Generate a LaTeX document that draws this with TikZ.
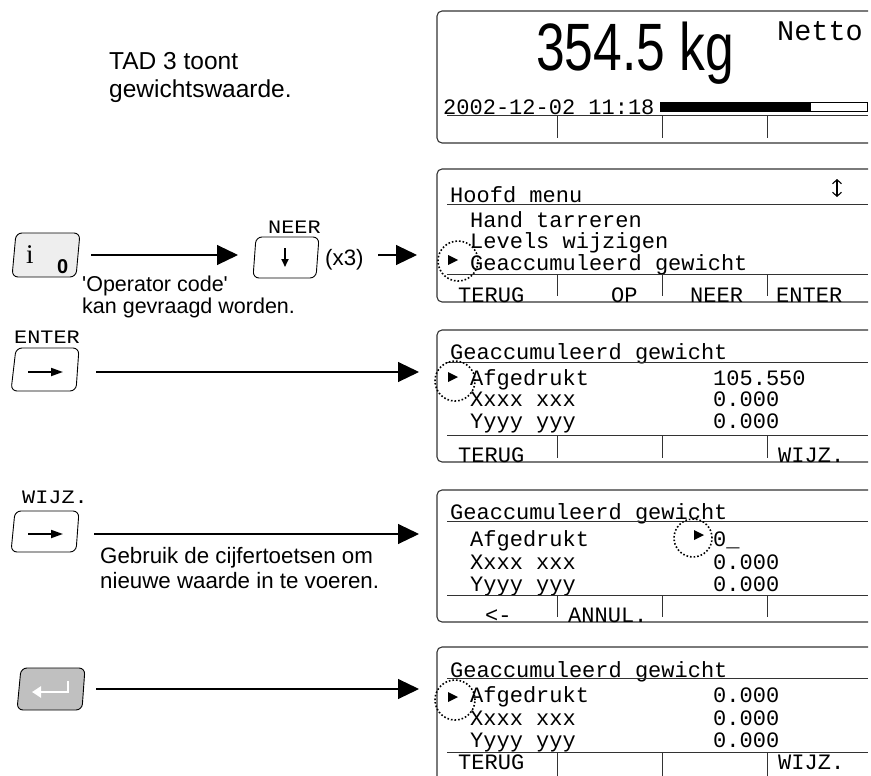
\documentclass[tikz,border=0pt]{standalone}
\usepackage{fontspec}
\setmainfont{Liberation Sans}
\newfontfamily\lcdfont{Liberation Mono}
\newfontfamily\capfont{Liberation Serif}
\usetikzlibrary{arrows.meta}

\definecolor{keylight}{HTML}{EEEEEE}
\definecolor{keydark}{HTML}{C0C0C0}
\definecolor{framegray}{HTML}{333333}

\tikzset{
  lcd/.style={font=\lcdfont\fontsize{22}{22}\selectfont, inner sep=0pt, anchor=base west},
  keylabel/.style={font=\lcdfont\fontsize{19}{19}\selectfont, inner sep=0pt, anchor=base west},
  note/.style={font=\fontsize{22.3}{27}\selectfont, inner sep=0pt, anchor=base west},
  flow/.style={line width=1.1pt, -{Triangle[length=21pt,width=20pt]}},
  lcdframe/.style={draw=framegray, line width=1.1pt, rounded corners=5pt},
  rule/.style={draw=framegray, line width=1pt},
  keyface/.style={draw=black, line width=0.9pt, rounded corners=6pt},
  cursorring/.style={dotted, line width=1.6pt},
}

% one display window, open on the right: top and bottom y
\newcommand\lcdwindow[2]{%
  \draw[lcdframe] (868,#1) -- (437,#1) -- (437,#2) -- (868,#2);}
% soft-key dividers: from y to y
\newcommand\softkeys[2]{%
  \foreach \sx in {557,662,767} \draw[rule] (\sx,#1) -- (\sx,#2);}
% selection cursor: ring centre, ring radius, triangle tip position
\newcommand\selcursor[4]{%
  \draw[cursorring] (#1,#2) circle (#3);
  \fill #4 -- ++(-10,-5) -- ++(0,10) -- cycle;}

\begin{document}
\begin{tikzpicture}[x=1pt,y=-1pt]
\useasboundingbox (0,0) rectangle (871,776);
\clip (0,0) rectangle (871,776);

% ---------------- left column: instructions and keys ----------------
\node[note, font=\fontsize{24.5}{28}\selectfont] (tad1) at (109,70) {TAD 3 toont};
\node[note, font=\fontsize{24.5}{28}\selectfont] (tad2) at (109,98) {gewichtswaarde.};

% info key
\draw[keyface, fill=keylight] (16,233) -- (80,233) -- (76,277) -- (12,277) -- cycle;
\node[inner sep=0pt, anchor=base west, font=\capfont\fontsize{27}{27}\selectfont] (infoi) at (26,263) {i};
\node[inner sep=0pt, anchor=base west, font=\bfseries\fontsize{20}{20}\selectfont] (info0) at (57,273) {0};
\coordinate (infoOut) at (91,255);
\coordinate (neerIn) at (238,255);
\draw[flow] (infoOut) -- (neerIn);
\node[note, font=\fontsize{21.5}{22}\selectfont] (opc1) at (82,291) {\textquotesingle Operator code\textquotesingle};
\node[note, font=\fontsize{21.5}{22}\selectfont] (opc2) at (82,313) {kan gevraagd worden.};

% NEER key
\node[keylabel] (neerlbl) at (268,233) {\scalebox{1.15}[1]{NEER}};
\draw[keyface, fill=white] (256,237) -- (319,237) -- (316,278) -- (253,278) -- cycle;
\draw[line width=1.8pt, -{Triangle[length=8pt,width=7pt]}] (285,248) -- (285,267);
\node[note] (times3) at (325,265) {(x3)};
\coordinate (x3Out) at (378,255);
\coordinate (menuIn) at (417,255);
\draw[flow] (x3Out) -- (menuIn);

% ENTER key
\node[keylabel] (enterlbl) at (14,343) {\scalebox{1.15}[1]{ENTER}};
\draw[keyface, fill=white] (16,348) -- (79,348) -- (76,391) -- (11,391) -- cycle;
\draw[line width=1.8pt, -{Triangle[length=12pt,width=8pt]}] (28,372) -- (63,372);
\coordinate (enterOut) at (96,372);
\coordinate (accIn) at (419,372);
\draw[flow] (enterOut) -- (accIn);

% WIJZ. key
\node[keylabel] (wijzlbl) at (22,503) {\scalebox{1.15}[1]{WIJZ.}};
\draw[keyface, fill=white] (15,511) -- (79,511) -- (76,552) -- (11,552) -- cycle;
\draw[line width=1.8pt, -{Triangle[length=12pt,width=8pt]}] (28,534) -- (63,534);
\coordinate (wijzOut) at (94,534);
\coordinate (editIn) at (419,534);
\draw[flow] (wijzOut) -- (editIn);
\node[note] (hint1) at (100,563) {Gebruik de cijfertoetsen om};
\node[note] (hint2) at (100,588) {nieuwe waarde in te voeren.};

% return key
\draw[keyface, fill=keydark] (21,668) -- (85,668) -- (82,710) -- (17,710) -- cycle;
\draw[white, line width=2.6pt, {Triangle[length=9pt,width=11pt]}-] (32,692) -- (68,692) -- (68,681);
\coordinate (retOut) at (96,689);
\coordinate (doneIn) at (419,689);
\draw[flow] (retOut) -- (doneIn);

% ---------------- display 1: weight ----------------
\lcdwindow{11}{143}
\node[inner sep=0pt, anchor=base, font=\fontsize{67}{67}\selectfont] (weight) at (635,71) {\scalebox{0.77}[1]{354.5 kg}};
\node[inner sep=0pt, anchor=base west, font=\lcdfont\fontsize{28.5}{28.5}\selectfont] (netto) at (777,41) {Netto};
\node[lcd] (stamp) at (443,114) {2002-12-02 11:18};
\draw[rule] (447,116) -- (868,116);
\draw[line width=0.8pt] (660,102) rectangle (867,111);
\fill (660,102) rectangle (811,111);
\softkeys{116}{138}

% ---------------- display 2: main menu ----------------
\lcdwindow{169}{302}
\node[lcd] (mhead) at (450,202) {Hoofd menu};
\draw[rule] (447,204) -- (868,204);
\draw[line width=1.1pt, {Straight Barb[length=4pt,width=9pt]}-{Straight Barb[length=4pt,width=9pt]}] (837,179) -- (837,197);
\node[lcd] (m1) at (470,227) {Hand tarreren};
\node[lcd] (m2) at (470,248) {Levels wijzigen};
\node[lcd] (m3) at (470,270) {Geaccumuleerd gewicht};
\draw[rule] (447,274) -- (868,274);
\softkeys{274}{296}
\node[lcd] (mk1) at (458,302) {TERUG};
\node[lcd] (mk2) at (611,302) {OP};
\node[lcd] (mk3) at (690,302) {NEER};
\node[lcd] (mk4) at (776,302) {ENTER};
\selcursor{458}{261}{20pt}{(458,260)}

% ---------------- display 3: accumulated weight ----------------
\lcdwindow{330}{462}
\node[lcd] (ahead) at (450,359) {Geaccumuleerd gewicht};
\draw[rule] (447,362) -- (868,362);
\node[lcd] (a1) at (470,385) {Afgedrukt};
\node[lcd] (a1v) at (713,385) {105.550};
\node[lcd] (a2) at (470,406) {Xxxx xxx};
\node[lcd] (a2v) at (713,406) {0.000};
\node[lcd] (a3) at (470,428) {Yyyy yyy};
\node[lcd] (a3v) at (713,428) {0.000};
\draw[rule] (447,435) -- (868,435);
\softkeys{435}{458}
\node[lcd] (ak1) at (458,462) {TERUG};
\node[lcd] (ak4) at (778,462) {WIJZ.};
\selcursor{455}{381}{20pt}{(458,377)}

% ---------------- display 4: editing ----------------
\lcdwindow{490}{622}
\node[lcd] (ehead) at (450,519) {Geaccumuleerd gewicht};
\draw[rule] (447,521) -- (868,521);
\node[lcd] (e1) at (470,546) {Afgedrukt};
\node[lcd] (e1v) at (713,546) {0\_};
\node[lcd] (e2) at (470,569) {Xxxx xxx};
\node[lcd] (e2v) at (713,569) {0.000};
\node[lcd] (e3) at (470,591) {Yyyy yyy};
\node[lcd] (e3v) at (713,591) {0.000};
\draw[rule] (447,595) -- (868,595);
\softkeys{595}{617}
\node[lcd] (ek1) at (485,622) {<-};
\node[lcd] (ek2) at (568,622) {ANNUL.};
\selcursor{693}{538}{19pt}{(704,535)}

% ---------------- display 5: after confirming ----------------
\lcdwindow{647}{790}
\node[lcd] (dhead) at (450,677) {Geaccumuleerd gewicht};
\draw[rule] (447,678) -- (868,678);
\node[lcd] (d1) at (470,702) {Afgedrukt};
\node[lcd] (d1v) at (713,702) {0.000};
\node[lcd] (d2) at (470,725) {Xxxx xxx};
\node[lcd] (d2v) at (713,725) {0.000};
\node[lcd] (d3) at (470,747) {Yyyy yyy};
\node[lcd] (d3v) at (713,747) {0.000};
\draw[rule] (447,752) -- (868,752);
\softkeys{752}{790}
\node[lcd] (dk1) at (458,769) {TERUG};
\node[lcd] (dk4) at (778,769) {WIJZ.};
\selcursor{455}{700}{20pt}{(458,697)}
\end{tikzpicture}
\end{document}
